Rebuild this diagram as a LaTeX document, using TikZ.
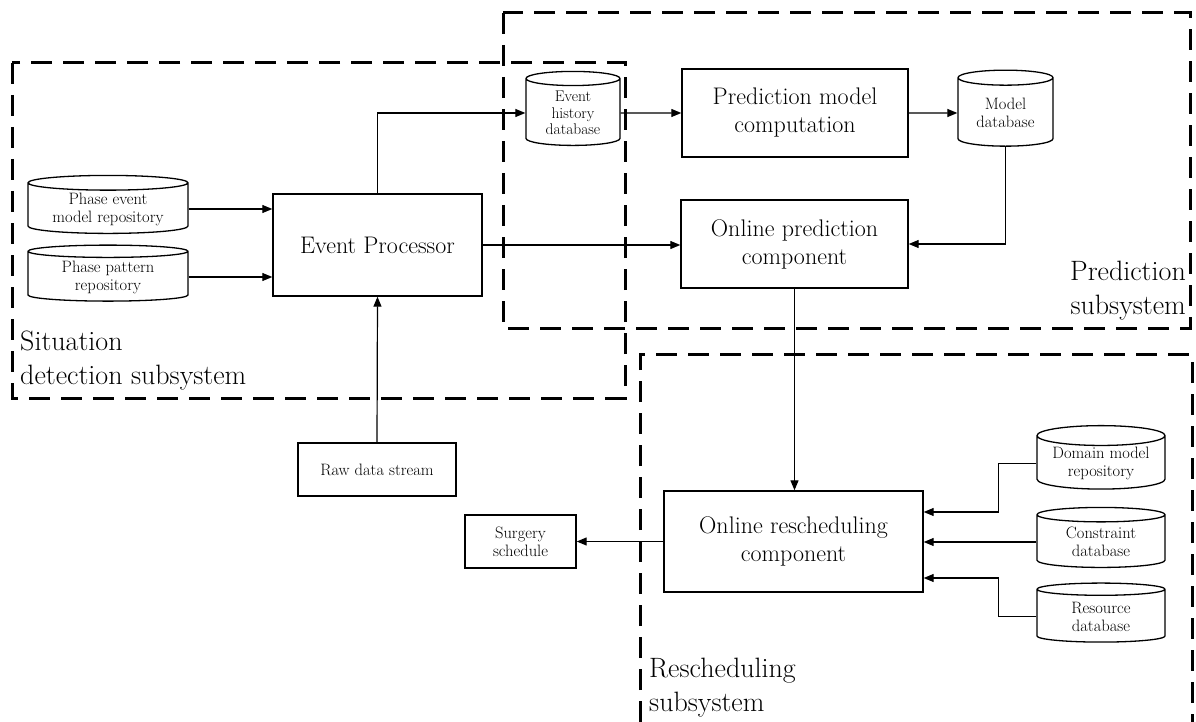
\documentclass[tikz,border=0pt]{standalone}
\usepackage{amsmath}
\usepackage{tikz}
\usetikzlibrary{shapes.geometric,arrows.meta}

\begin{document}
\begin{tikzpicture}[x=1pt,y=-1pt,
  box/.style={draw,line width=1.4pt,align=center,inner sep=2pt},
  dbase/.style={draw,line width=1.3pt,shape=cylinder,shape border rotate=90,aspect=0.2,align=center,inner sep=1pt},
  link/.style={line width=1.2pt,-{Triangle[length=10pt,width=8pt]}},
  zone/.style={line width=3pt,dash pattern=on 21pt off 11pt},
  bigtext/.style={font=\fontsize{24}{28}\selectfont},
  smalltext/.style={font=\fontsize{16.5}{18}\selectfont},
  zonetext/.style={font=\fontsize{28}{34}\selectfont,inner sep=0pt}]
\useasboundingbox (0,0) rectangle (1196,722);

%Subsystem frames
\draw [zone] (12,63) rectangle (625,398) ;
\draw [zone] (503,13) rectangle (1190,328) ;
\draw [zone] (640,722) -- (640,354) -- (1192,354) -- (1192,722) ;

% Text Node
\node [zonetext,anchor=north west,align=left] (sitlbl) at (20,331) {Situation\\detection subsystem};
% Text Node
\node [zonetext,anchor=north east,align=right] (predlbl) at (1186,261) {Prediction\\subsystem};
% Text Node
\node [zonetext,anchor=north west,align=left] (reslbl) at (649,658) {Rescheduling\\subsystem};

%Repositories
\node [dbase,smalltext,aspect=0.13,minimum width=160,minimum height=58] (pem) at (108,209) {Phase event\\model repository};
\node [dbase,smalltext,aspect=0.13,minimum width=160,minimum height=56] (ppr) at (108,277) {Phase pattern\\repository};
\node [dbase,font=\fontsize{15.5}{16.5}\selectfont,aspect=0.25,minimum width=94,minimum height=74] (ehdb) at (573,113) {Event\\history\\database};
\node [dbase,smalltext,aspect=0.25,minimum width=95,minimum height=76] (mdb) at (1005.5,113) {Model\\database};
\node [dbase,smalltext,minimum width=128,minimum height=59] (dmr) at (1101,463.5) {Domain model\\repository};
\node [dbase,smalltext,minimum width=128,minimum height=60] (cdb) at (1101,542) {Constraint\\database};
\node [dbase,smalltext,minimum width=128,minimum height=59] (rdb) at (1101,616.5) {Resource\\database};

%Components
\node [box,bigtext,minimum width=209,minimum height=102] (ep) at (377.5,245) {Event Processor};
\node [box,bigtext,minimum width=226,minimum height=88] (pmc) at (795,113) {Prediction model\\computation};
\node [box,bigtext,minimum width=227,minimum height=88] (opc) at (794.5,244) {Online prediction\\component};
\node [box,bigtext,minimum width=259,minimum height=101] (orc) at (793.5,541.5) {Online rescheduling\\component};
\node [box,smalltext,minimum width=158,minimum height=53] (raw) at (377,469.5) {Raw data stream};
\node [box,smalltext,minimum width=111,minimum height=53] (surg) at (520.5,541.5) {Surgery\\schedule};

%Connectors
\draw [link] (pem.east) -- (pem.east -| ep.west) ;
\draw [link] (ppr.east) -- (ppr.east -| ep.west) ;
\draw [link] (raw.north) -- (ep.south) ;
\draw [link] (ep.north) |- (ehdb.west) ;
\draw [link] (ehdb.east) -- (pmc.west) ;
\draw [link] (pmc.east) -- (mdb.west) ;
\draw [link] (mdb.south) |- (opc.east) ;
\draw [link] (ep.east) -- (ep.east -| opc.west) ;
\draw [link] (opc.south) -- (opc.south |- orc.north) ;
\draw [link] (orc.west) -- (surg.east) ;
\draw [link] (dmr.west) -- ++(-38,0) |- ([yshift=29.5pt]orc.east) ;
\draw [link] (cdb.west) -- (cdb.west -| orc.east) ;
\draw [link] (rdb.west) -- ++(-38,0) |- ([yshift=-36.5pt]orc.east) ;

\end{tikzpicture}
\end{document}
